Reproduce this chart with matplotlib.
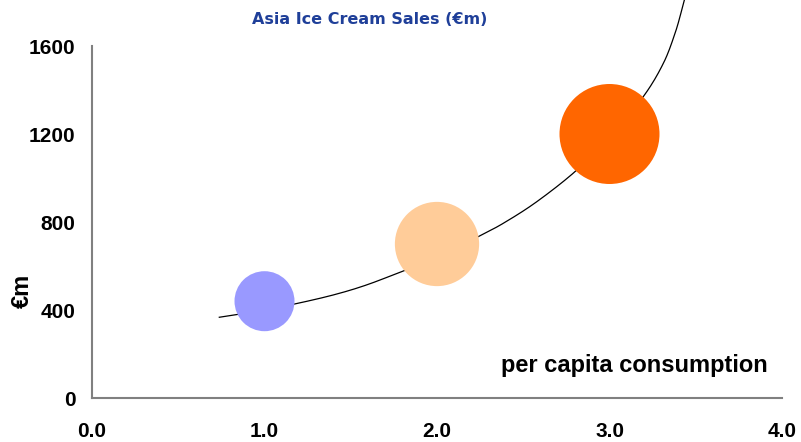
import matplotlib
matplotlib.use("Agg")
import matplotlib.pyplot as plt
import numpy as np

# Bubble data
consumption = [1.0, 2.0, 3.0]
sales = [440, 700, 1200]
bubble_value = [36, 71, 100]
bubble_colors = ["#9999FF", "#FFCC99", "#FF6600"]

# Trend curve
curve_x = [0.738, 0.839, 1.0, 1.173, 1.397, 1.592, 1.809, 2.0, 2.249, 2.384,
           2.578, 2.806, 3.0, 3.196, 3.312, 3.380, 3.419, 3.434]
curve_y = [367, 379, 400, 427, 468, 514, 579, 638, 738, 794,
           892, 1033, 1185, 1370, 1521, 1658, 1764, 1809]

x_ticks = [0, 1, 2, 3, 4]
x_ticklabels = ["0.0", "1.0", "2.0", "3.0", "4.0"]
y_ticks = [0, 400, 800, 1200, 1600]
y_ticklabels = ["0", "400", "800", "1200", "1600"]


def catmull_rom(xs, ys, n=20):
    p = np.column_stack([xs, ys]).astype(float)
    p = np.vstack([2 * p[0] - p[1], p, 2 * p[-1] - p[-2]])
    out = []
    t = np.linspace(0, 1, n, endpoint=False)[:, None]
    for i in range(1, len(p) - 2):
        p0, p1, p2, p3 = p[i - 1], p[i], p[i + 1], p[i + 2]
        seg = 0.5 * ((2 * p1) + (-p0 + p2) * t + (2 * p0 - 5 * p1 + 4 * p2 - p3) * t ** 2
                     + (-p0 + 3 * p1 - 3 * p2 + p3) * t ** 3)
        out.append(seg)
    out.append(p[-2][None, :])
    out = np.vstack(out)
    return out[:, 0], out[:, 1]


fig = plt.figure(figsize=(8.01, 4.42), dpi=100)
ax = fig.add_axes([92 / 801, 44 / 442, 690 / 801, 352 / 442])

sx, sy = catmull_rom(curve_x, curve_y)
ax.plot(sx, sy, color="black", lw=0.9, clip_on=False, zorder=2)
ax.scatter(consumption, sales, s=[v * 51.84 for v in bubble_value],
           c=bubble_colors, edgecolors="none", zorder=3, clip_on=False)

ax.set_xlim(0, 4)
ax.set_ylim(0, 1600)
ax.set_xticks(x_ticks)
ax.set_xticklabels(x_ticklabels)
ax.set_yticks(y_ticks)
ax.set_yticklabels(y_ticklabels)
ax.tick_params(axis="both", length=0, labelsize=15)
ax.tick_params(axis="x", pad=17)
ax.tick_params(axis="y", pad=12)
for lab in ax.get_xticklabels() + ax.get_yticklabels():
    lab.set_fontfamily("Liberation Sans")
    lab.set_fontweight("bold")

for s in ["top", "right"]:
    ax.spines[s].set_visible(False)
for s in ["left", "bottom"]:
    ax.spines[s].set_color("#808080")
    ax.spines[s].set_linewidth(1.5)

ax.text(3.919, 118, "per capita consumption", ha="right", va="baseline",
        fontsize=17, fontweight="bold", family="Liberation Sans")

fig.text(22 / 801, 1 - 291 / 442, "€m", rotation=90, ha="center", va="center",
         fontsize=17, fontweight="bold", family="Liberation Sans")

fig.text(370 / 801, 1 - 24.3 / 442, "Asia Ice Cream Sales (€m)", ha="center",
         va="baseline", fontsize=11.5, fontweight="bold", family="DejaVu Sans",
         color="#1F3F99")

fig.savefig("out.png", dpi=100)
